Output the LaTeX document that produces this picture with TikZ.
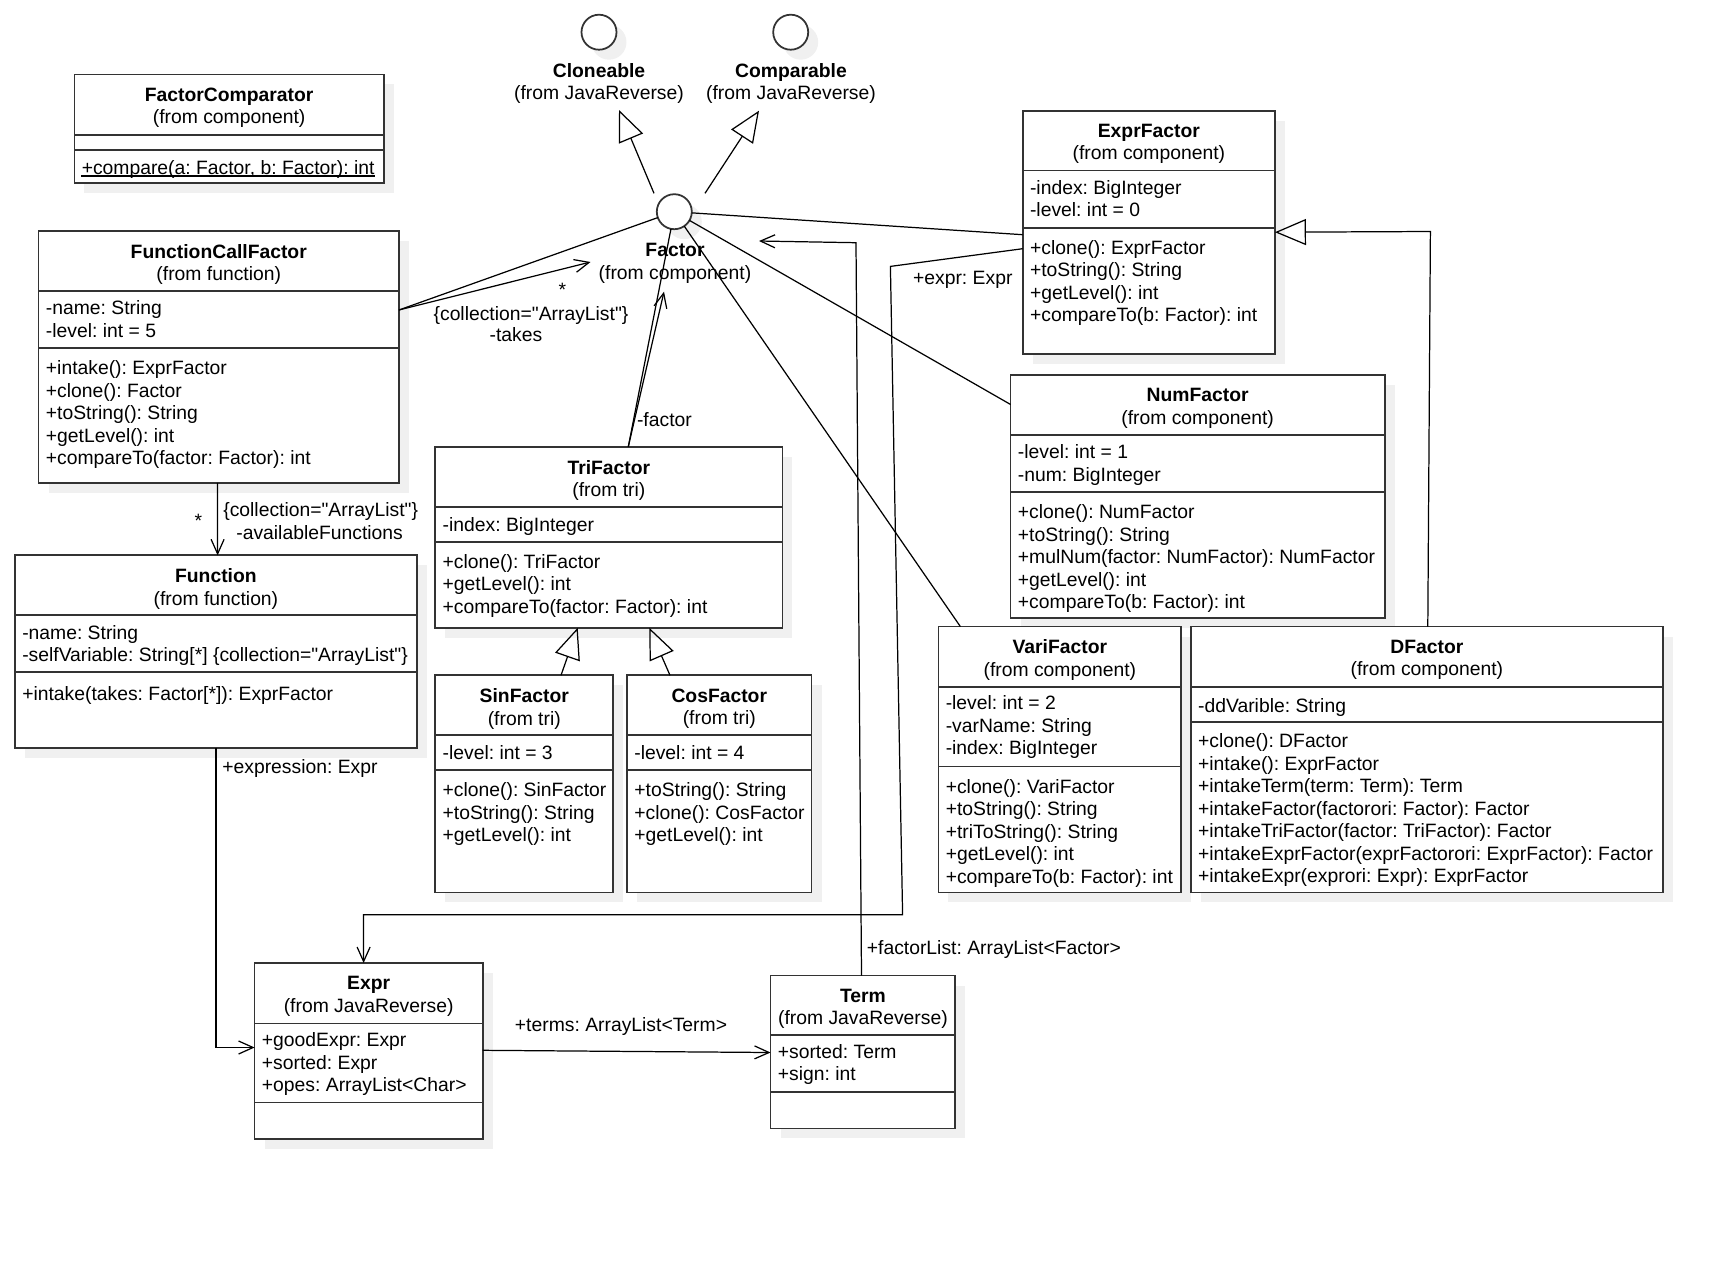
\documentclass[tikz,border=0pt]{standalone}
\usepackage{fontspec}
\setmainfont{Liberation Sans}[Ligatures=TeXOff]
\usepackage{tikz}
\usetikzlibrary{arrows.meta,calc,shadows}
\newcommand\umlfont{\fontsize{11}{12.76}\selectfont}
\frenchspacing

\begin{document}
\begin{tikzpicture}[x=0.02cm,y=-0.02cm,font=\umlfont,
	class node/.style={draw=black!80,line width=1pt,fill=white,anchor=north west,inner sep=0pt,outer sep=0pt,drop shadow={shadow xshift=0.2cm,shadow yshift=-0.2cm,fill=black!6,opacity=1}},
	iface node/.style={circle,draw=black!80,line width=1pt,fill=white,minimum size=0.7cm,inner sep=0pt,outer sep=0pt,drop shadow={shadow xshift=0.2cm,shadow yshift=-0.2cm,fill=black!6,opacity=1}},
	title node/.style={anchor=north,align=center,inner sep=0pt,execute at begin node=\strut},
	member node/.style={anchor=north west,align=left,inner sep=0pt,execute at begin node=\strut},
	label node/.style={anchor=base,inner sep=0pt},
	sep line/.style={draw=black!80,line width=1pt},
	link/.style={line width=0.7pt},
	assoc/.style={line width=0.7pt,-{Straight Barb[length=0.29cm,width=0.26cm]}},
	gen/.style={line width=0.7pt,-{Triangle[open,length=0.62cm,width=0.52cm]}}]

	\useasboundingbox (0,0) rectangle (1728,1262);

	% FactorComparator
	\node[class node,minimum width=6.19cm,minimum height=2.174cm] (fcmp) at (74.4,74.4) {};
	\node[title node] (fcmp-title) at ($(fcmp.north)+(0,13)$) {\textbf{FactorComparator}\\(from component)};
	\draw[sep line] ($(fcmp.north west)+(0,60.4)$) -- ($(fcmp.north east)+(0,60.4)$);
	\draw[sep line] ($(fcmp.north west)+(0,75.3)$) -- ($(fcmp.north east)+(0,75.3)$);
	\node[member node] (fcmp-ops) at ($(fcmp.north west)+(7,84)$) {+compare(a: Factor, b: Factor): int};
	\draw[line width=0.7pt] ($(fcmp-ops.north west)+(0,17.5)$) -- ($(fcmp-ops.north east)+(0,17.5)$);

	% FunctionCallFactor
	\node[class node,minimum width=7.208cm,minimum height=5.04cm] (fcall) at (38.6,231) {};
	\node[title node] (fcall-title) at ($(fcall.north)+(0,13)$) {\textbf{FunctionCallFactor}\\(from function)};
	\draw[sep line] ($(fcall.north west)+(0,60)$) -- ($(fcall.north east)+(0,60)$);
	\draw[sep line] ($(fcall.north west)+(0,117)$) -- ($(fcall.north east)+(0,117)$);
	\node[member node] (fcall-attr) at ($(fcall.north west)+(7,69.5)$) {-name: String\\-level: int = 5};
	\node[member node] (fcall-ops) at ($(fcall.north west)+(7,129.5)$) {+intake(): ExprFactor\\+clone(): Factor\\+toString(): String\\+getLevel(): int\\+compareTo(factor: Factor): int};

	% Function
	\node[class node,minimum width=8.042cm,minimum height=3.848cm] (func) at (14.9,555.3) {};
	\node[title node] (func-title) at ($(func.north)+(0,13)$) {\textbf{Function}\\(from function)};
	\draw[sep line] ($(func.north west)+(0,60)$) -- ($(func.north east)+(0,60)$);
	\draw[sep line] ($(func.north west)+(0,116.7)$) -- ($(func.north east)+(0,116.7)$);
	\node[member node] (func-attr) at ($(func.north west)+(7,69.5)$) {-name: String\\-selfVariable: String[*] \{collection="ArrayList"\}};
	\node[member node] (func-ops) at ($(func.north west)+(7,129)$) {+intake(takes: Factor[*]): ExprFactor};

	% TriFactor
	\node[class node,minimum width=6.944cm,minimum height=3.622cm] (tri) at (435.3,446.7) {};
	\node[title node] (tri-title) at ($(tri.north)+(0,13)$) {\textbf{TriFactor}\\(from tri)};
	\draw[sep line] ($(tri.north west)+(0,60.3)$) -- ($(tri.north east)+(0,60.3)$);
	\draw[sep line] ($(tri.north west)+(0,95.3)$) -- ($(tri.north east)+(0,95.3)$);
	\node[member node] (tri-attr) at ($(tri.north west)+(7,69)$) {-index: BigInteger};
	\node[member node] (tri-ops) at ($(tri.north west)+(7,107.5)$) {+clone(): TriFactor\\+getLevel(): int\\+compareTo(factor: Factor): int};

	% SinFactor
	\node[class node,minimum width=3.56cm,minimum height=4.344cm] (sin) at (435.3,675.3) {};
	\node[title node] (sin-title) at ($(sin.north)+(0,13)$) {\textbf{SinFactor}\\(from tri)};
	\draw[sep line] ($(sin.north west)+(0,59.5)$) -- ($(sin.north east)+(0,59.5)$);
	\draw[sep line] ($(sin.north west)+(0,94.5)$) -- ($(sin.north east)+(0,94.5)$);
	\node[member node] (sin-attr) at ($(sin.north west)+(7,68.5)$) {-level: int = 3};
	\node[member node] (sin-ops) at ($(sin.north west)+(7,107)$) {+clone(): SinFactor\\+toString(): String\\+getLevel(): int};

	% CosFactor
	\node[class node,minimum width=3.692cm,minimum height=4.344cm] (cos) at (627,675.3) {};
	\node[title node] (cos-title) at ($(cos.north)+(0,13)$) {\textbf{CosFactor}\\(from tri)};
	\draw[sep line] ($(cos.north west)+(0,59.5)$) -- ($(cos.north east)+(0,59.5)$);
	\draw[sep line] ($(cos.north west)+(0,94.5)$) -- ($(cos.north east)+(0,94.5)$);
	\node[member node] (cos-attr) at ($(cos.north west)+(7,68.5)$) {-level: int = 4};
	\node[member node] (cos-ops) at ($(cos.north west)+(7,107)$) {+toString(): String\\+clone(): CosFactor\\+getLevel(): int};

	% ExprFactor
	\node[class node,minimum width=5.046cm,minimum height=4.868cm] (exprf) at (1022.7,110.7) {};
	\node[title node] (exprf-title) at ($(exprf.north)+(0,13)$) {\textbf{ExprFactor}\\(from component)};
	\draw[sep line] ($(exprf.north west)+(0,59.9)$) -- ($(exprf.north east)+(0,59.9)$);
	\draw[sep line] ($(exprf.north west)+(0,117.1)$) -- ($(exprf.north east)+(0,117.1)$);
	\node[member node] (exprf-attr) at ($(exprf.north west)+(7,69.5)$) {-index: BigInteger\\-level: int = 0};
	\node[member node] (exprf-ops) at ($(exprf.north west)+(7,129.5)$) {+clone(): ExprFactor\\+toString(): String\\+getLevel(): int\\+compareTo(b: Factor): int};

	% NumFactor
	\node[class node,minimum width=7.482cm,minimum height=4.854cm] (num) at (1010.6,375) {};
	\node[title node] (num-title) at ($(num.north)+(0,13)$) {\textbf{NumFactor}\\(from component)};
	\draw[sep line] ($(num.north west)+(0,60)$) -- ($(num.north east)+(0,60)$);
	\draw[sep line] ($(num.north west)+(0,116.8)$) -- ($(num.north east)+(0,116.8)$);
	\node[member node] (num-attr) at ($(num.north west)+(7,69.5)$) {-level: int = 1\\-num: BigInteger};
	\node[member node] (num-ops) at ($(num.north west)+(7,129.5)$) {+clone(): NumFactor\\+toString(): String\\+mulNum(factor: NumFactor): NumFactor\\+getLevel(): int\\+compareTo(b: Factor): int};

	% VariFactor
	\node[class node,minimum width=4.86cm,minimum height=5.318cm] (vari) at (938.4,626.6) {};
	\node[title node] (vari-title) at ($(vari.north)+(0,13)$) {\textbf{VariFactor}\\(from component)};
	\draw[sep line] ($(vari.north west)+(0,60.7)$) -- ($(vari.north east)+(0,60.7)$);
	\draw[sep line] ($(vari.north west)+(0,140)$) -- ($(vari.north east)+(0,140)$);
	\node[member node] (vari-attr) at ($(vari.north west)+(7,69)$) {-level: int = 2\\-varName: String\\-index: BigInteger};
	\node[member node] (vari-ops) at ($(vari.north west)+(7,152.5)$) {+clone(): VariFactor\\+toString(): String\\+triToString(): String\\+getLevel(): int\\+compareTo(b: Factor): int};

	% DFactor
	\node[class node,minimum width=9.444cm,minimum height=5.318cm] (dfac) at (1190.8,626.6) {};
	\node[title node] (dfac-title) at ($(dfac.north)+(0,13)$) {\textbf{DFactor}\\(from component)};
	\draw[sep line] ($(dfac.north west)+(0,60.7)$) -- ($(dfac.north east)+(0,60.7)$);
	\draw[sep line] ($(dfac.north west)+(0,95.4)$) -- ($(dfac.north east)+(0,95.4)$);
	\node[member node] (dfac-attr) at ($(dfac.north west)+(7,69.5)$) {-ddVarible: String};
	\node[member node] (dfac-ops) at ($(dfac.north west)+(7,107)$) {+clone(): DFactor\\+intake(): ExprFactor\\+intakeTerm(term: Term): Term\\+intakeFactor(factorori: Factor): Factor\\+intakeTriFactor(factor: TriFactor): Factor\\+intakeExprFactor(exprFactorori: ExprFactor): Factor\\+intakeExpr(exprori: Expr): ExprFactor};

	% Expr
	\node[class node,minimum width=4.562cm,minimum height=3.518cm] (expr) at (254.6,963) {};
	\node[title node] (expr-title) at ($(expr.north)+(0,13)$) {\textbf{Expr}\\(from JavaReverse)};
	\draw[sep line] ($(expr.north west)+(0,60.4)$) -- ($(expr.north east)+(0,60.4)$);
	\draw[sep line] ($(expr.north west)+(0,139.6)$) -- ($(expr.north east)+(0,139.6)$);
	\node[member node] (expr-attr) at ($(expr.north west)+(7,69.5)$) {+goodExpr: Expr\\+sorted: Expr\\+opes: ArrayList<Char>};

	% Term
	\node[class node,minimum width=3.698cm,minimum height=3.06cm] (term) at (770.5,975.5) {};
	\node[title node] (term-title) at ($(term.north)+(0,13)$) {\textbf{Term}\\(from JavaReverse)};
	\draw[sep line] ($(term.north west)+(0,59.8)$) -- ($(term.north east)+(0,59.8)$);
	\draw[sep line] ($(term.north west)+(0,116.8)$) -- ($(term.north east)+(0,116.8)$);
	\node[member node] (term-attr) at ($(term.north west)+(7,68.5)$) {+sorted: Term\\+sign: int};

	% interfaces
	\node[iface node] (cloneable) at (599,32.2) {};
	\node[title node] (cloneable-name) at (599,63) {\textbf{Cloneable}\\(from JavaReverse)};
	\node[iface node] (comparable) at (790.7,32.2) {};
	\node[title node] (comparable-name) at (791,63) {\textbf{Comparable}\\(from JavaReverse)};
	\node[iface node] (factor) at (674.3,211.7) {};
	\node[title node] (factor-name) at (675,243) {\textbf{Factor}\\(from component)};

	\coordinate (cloneable-tip) at (619,110);
	\coordinate (comparable-tip) at (759,110.7);
	\draw[gen] ($(factor)+(-20.3,-18.4)$) -- (cloneable-tip);
	\draw[gen] ($(factor)+(30.7,-18.4)$) -- (comparable-tip);

	% realizations of Factor
	\path[link] (factor) edge ($(exprf.north west)+(0,124)$)
		edge ($(num.north west)+(0,29.5)$)
		edge ($(vari.north west)+(22,0)$)
		edge ($(tri.north west)+(193,0)$)
		edge ($(fcall.north east)+(0,79)$);

	% associations
	\coordinate (takes-tip) at (590.5,262);
	\draw[assoc] ($(fcall.north east)+(0,79)$) -- (takes-tip);
	\node[label node] (takes-mult) at (562.3,296) {*};
	\node[label node] (takes-coll) at (531,320.3) {\{collection="ArrayList"\}};
	\node[label node] (takes-role) at (516,341.3) {-takes};

	\coordinate (factor-tip) at (664,291.7);
	\draw[assoc] ($(tri.north west)+(193,0)$) -- (factor-tip);
	\node[label node,anchor=base west] (factor-role) at (636.7,426.3) {-factor};

	\draw[assoc] ($(fcall.south west)+(179,0)$) -- ($(func.north west)+(202.7,0)$);
	\node[label node] (avail-mult) at (198.4,527.3) {*};
	\node[label node] (avail-coll) at (320.7,516) {\{collection="ArrayList"\}};
	\node[label node] (avail-role) at (319.6,539.4) {-availableFunctions};

	\draw[assoc] ($(func.south west)+(201,0)$) |- ($(expr.north west)+(0,84.5)$);
	\node[label node,anchor=base west] (expression-role) at (222,773.2) {+expression: Expr};

	\draw[assoc] ($(expr.north east)+(0,87.3)$) -- ($(term.north west)+(0,77)$);
	\node[label node] (terms-role) at (621,1031.2) {+terms: ArrayList<Term>};

	\coordinate (expr-bend1) at (890.4,266.4);
	\coordinate (expr-bend2) at (902.6,914.7);
	\draw[assoc] ($(exprf.north west)+(0,138)$) -- (expr-bend1) -- (expr-bend2) -| ($(expr.north west)+(109,0)$);
	\node[label node,anchor=base east] (expr-role) at (1012.8,284.7) {+expr: Expr};

	\coordinate (flist-bend) at (856,242.7);
	\coordinate (flist-tip) at (759,241);
	\draw[assoc] ($(term.north west)+(91,0)$) -- (flist-bend) -- (flist-tip);
	\node[label node,anchor=base west] (flist-role) at (866.5,954.7) {+factorList: ArrayList<Factor>};

	% generalizations
	\coordinate (dfac-bend) at (1430.4,231.5);
	\draw[gen] ($(dfac.north west)+(237,0)$) -- (dfac-bend) -- ($(exprf.north east)+(0,121.5)$);
	\draw[gen] ($(sin.north west)+(125.7,0)$) -- ($(tri.south west)+(142.4,0)$);
	\draw[gen] ($(cos.north west)+(43,0)$) -- ($(tri.south west)+(214,0)$);
\end{tikzpicture}
\end{document}
